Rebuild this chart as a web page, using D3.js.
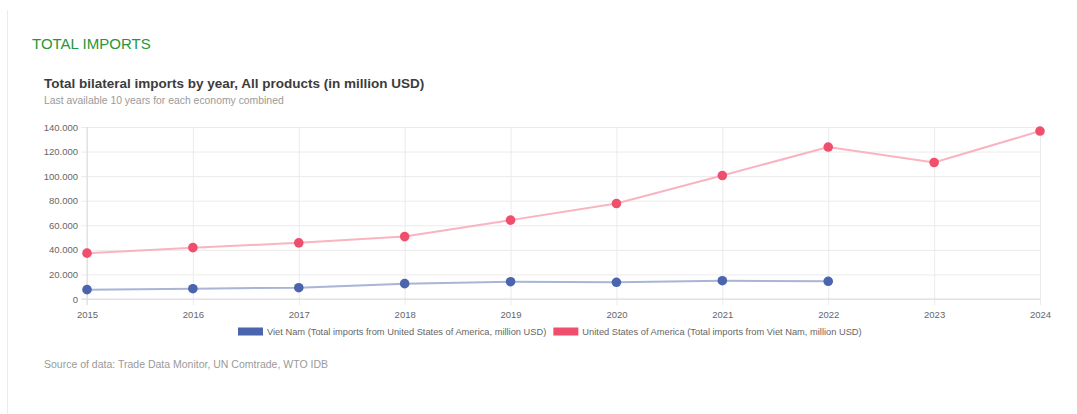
<!DOCTYPE html>
<html>
<head>
<meta charset="utf-8">
<script src="https://cdn.jsdelivr.net/npm/d3@7"></script>
<style>
  html, body { margin: 0; padding: 0; background: #fff; }
  svg { display: block; font-family: "Liberation Sans", Arial, Helvetica, sans-serif; }
</style>
</head>
<body>
<svg id="chart" width="1077" height="414"></svg>
<script>
// Bilateral imports, million USD
const years = [2015, 2016, 2017, 2018, 2019, 2020, 2021, 2022, 2023, 2024];
const vietNamImports = [7600, 8400, 9200, 12500, 14100, 13600, 14900, 14400, null, null];
const usaImports = [37300, 41800, 45700, 50800, 64200, 77700, 100500, 123700, 111100, 136700];
const yTicks = [0, 20000, 40000, 60000, 80000, 100000, 120000, 140000];
const seriesNames = [
  "Viet Nam (Total imports from United States of America, million USD)",
  "United States of America (Total imports from Viet Nam, million USD)"
];
const seriesColors = ["#4a64ad", "#ef4f6d"];
const lineColors = ["#a9b4d6", "#f9b3c1"];

const svg = d3.select("#chart");
const W = 1077, H = 414;
const margin = { left: 87, right: 37, top: 127, bottom: 115 };

// page frame line on the left
svg.append("line")
  .attr("x1", 7.5).attr("x2", 7.5).attr("y1", 10).attr("y2", H)
  .attr("stroke", "#ececec").attr("stroke-width", 1);

svg.append("text")
  .attr("x", 32).attr("y", 49)
  .attr("font-size", 15).attr("fill", "#26963a")
  .text("TOTAL IMPORTS");

svg.append("text")
  .attr("x", 44).attr("y", 87.5)
  .attr("font-size", 13.5).attr("font-weight", "bold").attr("fill", "#3c3c3c")
  .text("Total bilateral imports by year, All products (in million USD)");

svg.append("text")
  .attr("x", 44).attr("y", 103.5)
  .attr("font-size", 10.4).attr("fill", "#9a9a9a")
  .text("Last available 10 years for each economy combined");

const x = d3.scalePoint().domain(years).range([margin.left, W - margin.right]);
const y = d3.scaleLinear().domain([0, 140000]).range([H - margin.bottom, margin.top]);

const fmt = v => d3.format(",")(v).replace(/,/g, ".");

// horizontal grid + y axis
const yAxis = d3.axisLeft(y).tickValues(yTicks).tickFormat(fmt)
  .tickSize(-(W - margin.left - margin.right)).tickPadding(9);
const gy = svg.append("g").attr("transform", `translate(${margin.left},0)`).call(yAxis);
gy.select(".domain").remove();
gy.selectAll(".tick line").attr("stroke", "#ebebeb").attr("x1", -6);
gy.selectAll(".tick text").attr("fill", "#666").attr("font-size", 9.5)
  .attr("font-family", "Liberation Sans, Arial, sans-serif");

// vertical grid + x axis
const xAxis = d3.axisBottom(x).tickValues(years).tickFormat(d3.format("d"))
  .tickSize(-(H - margin.top - margin.bottom)).tickPadding(12);
const gx = svg.append("g").attr("transform", `translate(0,${H - margin.bottom})`).call(xAxis);
gx.select(".domain").remove();
gx.selectAll(".tick line").attr("stroke", "#ebebeb").attr("y2", 6)
  .attr("y1", -(H - margin.top - margin.bottom));
gx.selectAll(".tick text").attr("fill", "#666").attr("font-size", 9.5)
  .attr("font-family", "Liberation Sans, Arial, sans-serif");

// axis baselines
svg.append("line")
  .attr("x1", margin.left - 6).attr("x2", W - margin.right)
  .attr("y1", y(0)).attr("y2", y(0)).attr("stroke", "#dcdcdc");
svg.append("line")
  .attr("x1", margin.left).attr("x2", margin.left)
  .attr("y1", margin.top).attr("y2", y(0) + 6).attr("stroke", "#dcdcdc");

const allSeries = [vietNamImports, usaImports];
const line = d3.line()
  .defined(d => d.v != null)
  .x(d => x(d.year)).y(d => y(d.v));

allSeries.forEach((vals, i) => {
  const pts = years.map((yr, j) => ({ year: yr, v: vals[j] }));
  svg.append("path").datum(pts)
    .attr("d", line).attr("fill", "none")
    .attr("stroke", lineColors[i]).attr("stroke-width", 2);
  svg.append("g").selectAll("circle")
    .data(pts.filter(d => d.v != null))
    .join("circle")
    .attr("cx", d => x(d.year)).attr("cy", d => y(d.v))
    .attr("r", 4.8).attr("fill", seriesColors[i]);
});

// legend
const legend = svg.append("g").attr("font-size", 9.3).attr("fill", "#666");
let lx = 238;
seriesNames.forEach((name, i) => {
  legend.append("rect").attr("x", lx).attr("y", 327.5).attr("width", 25).attr("height", 8)
    .attr("fill", seriesColors[i]);
  const t = legend.append("text").attr("x", lx + 29).attr("y", 335).attr("fill", "#666").text(name);
  lx += 29 + t.node().getComputedTextLength() + 7;
});

svg.append("text")
  .attr("x", 44).attr("y", 368)
  .attr("font-size", 10.5).attr("fill", "#9a9a9a")
  .text("Source of data: Trade Data Monitor, UN Comtrade, WTO IDB");
</script>
</body>
</html>
